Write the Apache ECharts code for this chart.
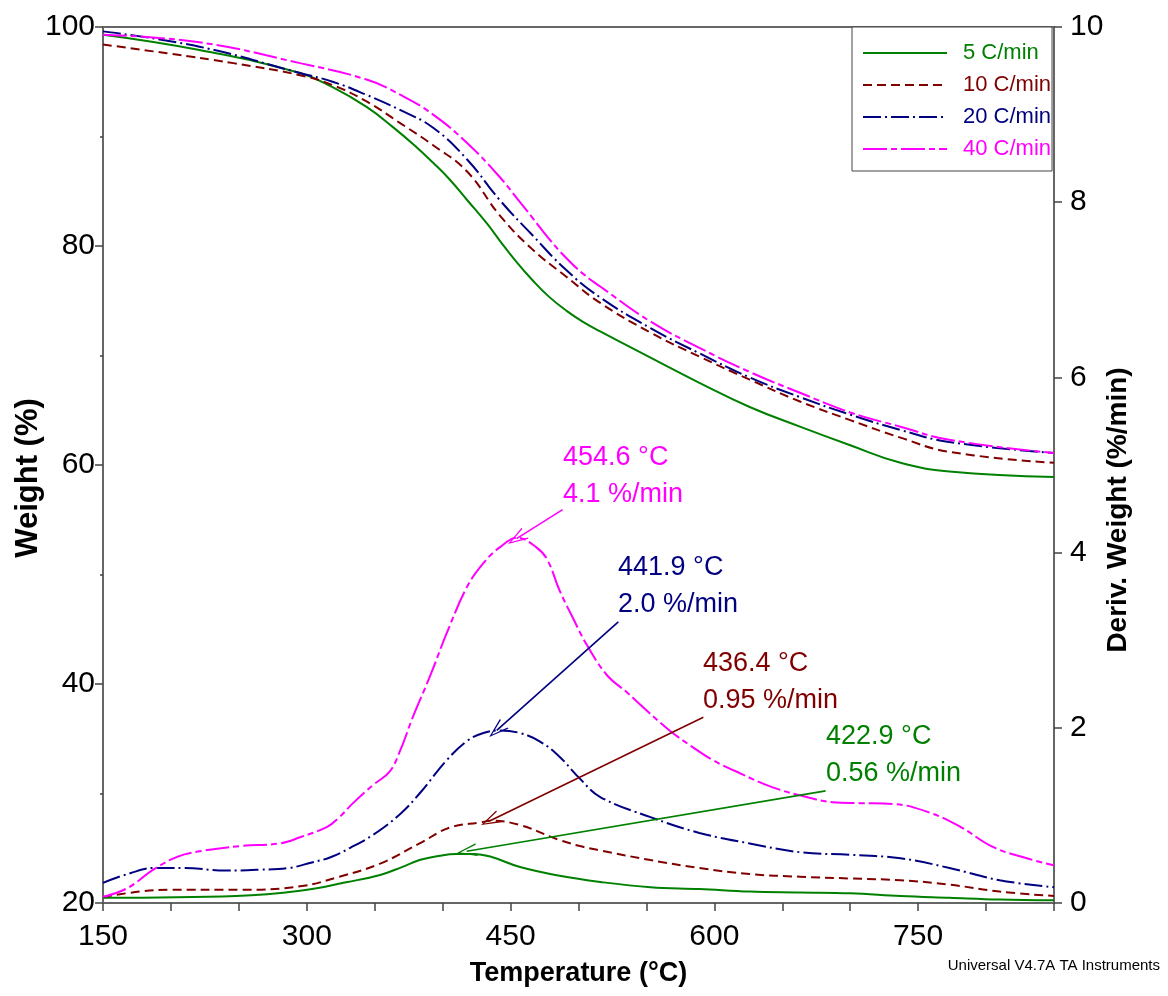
<!DOCTYPE html>
<html><head><meta charset="utf-8">
<script src="https://cdn.jsdelivr.net/npm/echarts@6/dist/echarts.min.js"></script>
<style>html,body{margin:0;padding:0;background:#fff}#c{width:1168px;height:996px}</style>
</head><body><div id="c"></div>
<script>
// ---- data ----
const seriesNames = ['5 C/min', '10 C/min', '20 C/min', '40 C/min'];

// TG (Weight %, left axis)
const tgTemp5 = [150,221,295,319,344,363,381,393,405,418,433,442,454,466,478,491,503,516,553,589,626,663,700,737,773,850];
const tgWeight5 = [99.3,97.9,95.8,94.5,92.7,90.9,89.0,87.6,86.1,84.2,82.0,80.5,78.6,76.9,75.4,74.1,73.1,72.2,69.8,67.5,65.3,63.5,61.8,60.2,59.4,58.9];
const tgTemp10 = [150,197,246,295,319,344,369,393,418,442,466,491,516,553,589,626,663,700,737,773,850];
const tgWeight10 = [98.4,97.6,96.7,95.6,94.7,93.2,91.2,89.2,86.8,82.8,79.7,77.2,74.8,72.1,69.9,67.8,65.8,64.1,62.5,61.2,60.2];
const tgTemp20 = [150,221,295,319,344,369,393,418,442,466,491,516,553,589,626,663,700,737,773,850];
const tgWeight20 = [99.6,98.2,95.8,95.0,93.8,92.4,90.8,87.9,84.2,81.0,77.8,75.3,72.5,70.2,68.0,66.2,64.6,63.2,62.1,61.1];
const tgTemp40 = [150,221,295,344,369,393,418,442,455,466,478,491,503,516,553,589,626,663,700,737,773,850];
const tgWeight40 = [99.3,98.6,96.7,95.2,93.8,92.0,89.4,86.3,84.3,82.6,80.7,78.9,77.5,76.3,73.1,70.7,68.5,66.6,64.8,63.5,62.3,61.1];

// DTG (Deriv. Weight %/min, right axis)
const dtgTemp5 = [150,248,295,330,354,370,383,398,410,423,435,457,486,516,553,589,626,663,700,737,773,810,850];
const dtgRate5 = [0.06,0.08,0.14,0.24,0.32,0.41,0.49,0.54,0.56,0.56,0.53,0.41,0.31,0.24,0.18,0.16,0.13,0.12,0.11,0.08,0.06,0.04,0.03];
const dtgTemp10 = [150,177,199,251,295,324,354,383,405,428,436,457,479,486,501,516,553,589,626,663,700,737,773,810,850];
const dtgRate10 = [0.07,0.13,0.15,0.15,0.19,0.30,0.45,0.68,0.86,0.92,0.94,0.89,0.76,0.72,0.65,0.60,0.49,0.40,0.33,0.30,0.28,0.26,0.21,0.13,0.08];
const dtgTemp20 = [150,170,188,210,240,265,287,303,317,332,349,369,383,403,418,430,442,457,472,486,501,516,553,589,626,663,700,737,773,810,850];
const dtgRate20 = [0.23,0.34,0.40,0.40,0.37,0.38,0.40,0.46,0.52,0.63,0.78,1.02,1.25,1.63,1.85,1.94,1.97,1.94,1.84,1.67,1.42,1.21,0.98,0.80,0.68,0.58,0.55,0.51,0.40,0.26,0.18];
const dtgTemp40 = [150,168,187,205,221,251,280,295,315,324,334,349,361,369,378,391,403,418,430,442,455,469,477,486,496,506,521,536,550,567,584,599,619,643,668,687,707,732,757,781,805,830,850];
const dtgRate40 = [0.07,0.17,0.38,0.53,0.59,0.65,0.68,0.75,0.87,0.98,1.14,1.35,1.50,1.75,2.12,2.60,3.08,3.61,3.88,4.06,4.17,4.06,3.92,3.57,3.25,2.95,2.60,2.40,2.20,1.97,1.78,1.63,1.48,1.32,1.21,1.15,1.14,1.13,1.04,0.87,0.64,0.51,0.43];

// peak annotations
const annoText = ['422.9 °C\n0.56 %/min', '436.4 °C\n0.95 %/min', '441.9 °C\n2.0 %/min', '454.6 °C\n4.1 %/min'];
const annoTextAt = [[682.2, 2.11], [591.6, 2.95], [529.1, 4.04], [488.6, 5.30]];
const arrowFrom = [[681.9, 1.28], [591.9, 2.12], [529.3, 3.21], [488.3, 4.49]];
const arrowTo = [[417.7, 0.59], [434.9, 0.94], [439.8, 1.97], [454.4, 4.16]];

// axis ticks
const xTicks = {min: 150, max: 850, step: 50, labelStep: 150};
const yLeftTicks = {min: 20, max: 100, step: 20};
const yRightTicks = {min: 0, max: 10, step: 2};

// ---- styling ----
const colors = ['#008000', '#800000', '#000080', '#ff00ff'];
const dashTypes = ['solid', [9, 5], [18, 4, 2, 4], [24, 4, 6, 4]];
const FONT = '"Liberation Sans",Arial,Helvetica,sans-serif';

const tgT = [tgTemp5, tgTemp10, tgTemp20, tgTemp40];
const tgW = [tgWeight5, tgWeight10, tgWeight20, tgWeight40];
const dT = [dtgTemp5, dtgTemp10, dtgTemp20, dtgTemp40];
const dR = [dtgRate5, dtgRate10, dtgRate20, dtgRate40];
const pairs = (xs, ys) => xs.map((x, i) => [x, ys[i]]);

const arrowHead = 'path://M6,0 L12,18 L10.6,18 L6,3.2 L1.4,18 L0,18 Z';

const series = [];
seriesNames.forEach((n, i) => {
  series.push({
    name: n, type: 'line', yAxisIndex: 0, data: pairs(tgT[i], tgW[i]),
    symbol: 'none', showSymbol: false, smooth: 0.45, silent: true,
    lineStyle: {color: colors[i], width: 2, type: dashTypes[i]}, itemStyle: {color: colors[i]}, z: 3
  });
});
seriesNames.forEach((n, i) => {
  series.push({
    name: n, type: 'line', yAxisIndex: 1, data: pairs(dT[i], dR[i]),
    symbol: 'none', showSymbol: false, smooth: 0.4, silent: true,
    lineStyle: {color: colors[i], width: 2, type: dashTypes[i]}, itemStyle: {color: colors[i]}, z: 3,
    markLine: {
      silent: true, symbol: ['none', arrowHead], symbolSize: [13, 20],
      label: {show: false},
      lineStyle: {color: colors[i], width: 1.6, type: 'solid'},
      data: [[{coord: arrowFrom[i]}, {coord: arrowTo[i]}]],
      animation: false
    },
    markPoint: {
      silent: true, symbol: 'circle', symbolSize: 0,
      itemStyle: {color: 'transparent'},
      label: {
        show: true, position: [0, 0], align: 'left', verticalAlign: 'top',
        formatter: annoText[i], color: colors[i], fontSize: 27, lineHeight: 37, fontFamily: FONT
      },
      data: [{coord: annoTextAt[i]}],
      animation: false
    }
  });
});

const chart = echarts.init(document.getElementById('c'), null, {renderer: 'canvas'});
const axisLineStyle = {color: '#666', width: 2};
chart.setOption({
  animation: false,
  backgroundColor: '#fff',
  grid: {left: 103, right: 114, top: 27, bottom: 93, outerBoundsMode: 'none', containLabel: false,
         show: true, borderColor: '#666', borderWidth: 2, backgroundColor: 'transparent'},
  legend: {
    data: seriesNames.map((n, i) => ({name: n, textStyle: {color: colors[i]}})),
    orient: 'vertical', left: 852, top: 27,
    padding: [14, 1, 10, 10], itemWidth: 84, itemHeight: 10, itemGap: 8,
    backgroundColor: '#fff', borderColor: '#444', borderWidth: 1, borderRadius: 0,
    selectedMode: false,
    itemStyle: {opacity: 0},
    textStyle: {fontSize: 22, lineHeight: 24, fontFamily: FONT, padding: [0, 0, 0, 11]}
  },
  xAxis: {
    type: 'value', min: xTicks.min, max: xTicks.max, interval: xTicks.step,
    axisLine: {show: true, onZero: false, lineStyle: axisLineStyle},
    axisTick: {show: true, length: 8, lineStyle: {color: '#444', width: 1.5}},
    splitLine: {show: false},
    axisLabel: {
      fontSize: 30, color: '#000', fontFamily: FONT, margin: 19,
      formatter: v => ((v - xTicks.min) % xTicks.labelStep === 0 && v < xTicks.max) ? String(v) : ''
    },
    name: 'Temperature (°C)', nameLocation: 'middle', nameGap: 57, nameMoveOverlap: false,
    nameTextStyle: {fontSize: 27, fontWeight: 'bold', color: '#000', fontFamily: FONT}
  },
  yAxis: [{
    type: 'value', position: 'left', min: yLeftTicks.min, max: yLeftTicks.max, interval: yLeftTicks.step,
    axisLine: {show: true, onZero: false, lineStyle: axisLineStyle},
    axisTick: {show: true, length: 8, lineStyle: {color: '#444', width: 1.5}},
    minorTick: {show: true, splitNumber: 2, length: 3, lineStyle: {color: '#444', width: 1.5}},
    splitLine: {show: false},
    axisLabel: {fontSize: 30, color: '#000', fontFamily: FONT, margin: 8},
    name: 'Weight (%)', nameLocation: 'middle', nameRotate: 90, nameGap: 59, nameMoveOverlap: false,
    nameTextStyle: {fontSize: 31, fontWeight: 'bold', color: '#000', fontFamily: FONT, padding: [0, 26, 0, 0]}
  }, {
    type: 'value', position: 'right', min: yRightTicks.min, max: yRightTicks.max, interval: yRightTicks.step,
    axisLine: {show: true, onZero: false, lineStyle: axisLineStyle},
    axisTick: {show: true, length: 8, lineStyle: {color: '#444', width: 1.5}},
    splitLine: {show: false},
    axisLabel: {fontSize: 30, color: '#000', fontFamily: FONT, margin: 16},
    name: 'Deriv. Weight (%/min)', nameLocation: 'middle', nameRotate: 90, nameGap: 50, nameMoveOverlap: false,
    nameTextStyle: {fontSize: 28, fontWeight: 'bold', color: '#000', fontFamily: FONT, padding: [0, 90, 0, 0]}
  }],
  graphic: [{
    type: 'text', right: 8, top: 958, silent: true,
    style: {text: 'Universal V4.7A TA Instruments', font: '15px ' + FONT, fill: '#000'}
  }],
  series: series
});
</script>
</body></html>
